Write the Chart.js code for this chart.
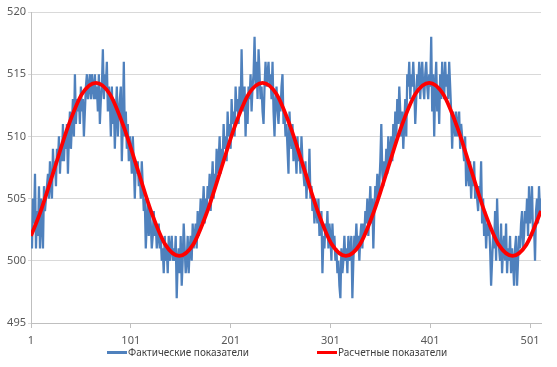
<!DOCTYPE html>
<html lang="ru">
<head>
<meta charset="utf-8">
<title>Фактические и расчетные показатели</title>
<script src="https://cdn.jsdelivr.net/npm/chart.js@4.4.0/dist/chart.umd.min.js"></script>
<style>
  html, body { margin: 0; padding: 0; background: #fff; }
  .wrap { position: relative; width: 557px; height: 367px; }
  .legend { position: absolute; left: 0; top: 345px; width: 557px; height: 14px;
    font: 10px "Noto Sans", sans-serif; color: #404040; }
  .legend__item { position: absolute; top: 0; height: 14px; display: flex; align-items: center; white-space: nowrap; }
  .legend__line { display: inline-block; width: 20px; height: 3px; margin-right: 1px; }
</style>
</head>
<body>
<div class="wrap">
  <canvas id="chart" width="557" height="367"></canvas>
  <div class="legend"></div>
</div>
<script>
// фактические показатели, точки 1..512
const FACT = [
  502, 501, 505, 503, 507, 501, 504, 502, 506, 501, 505, 503, 501, 506, 504, 505,
  506, 507, 505, 508, 506, 505, 509, 507, 508, 506, 509, 508, 510, 507, 509, 508,
  511, 508, 510, 509, 511, 507, 510, 512, 509, 511, 513, 510, 515, 511, 513, 512,
  513, 511, 514, 512, 513, 510, 512, 514, 515, 513, 514, 515, 513, 515, 514, 513,
  515, 513, 514, 512, 515, 511, 513, 514, 517, 513, 515, 514, 516, 512, 514, 513,
  510, 514, 511, 513, 509, 512, 514, 510, 512, 513, 514, 508, 511, 516, 510, 512,
  509, 511, 508, 510, 509, 507, 510, 508, 505, 508, 507, 508, 506, 507, 505, 508,
  506, 504, 505, 501, 503, 505, 502, 504, 503, 501, 502, 504, 502, 503, 501, 502,
  503, 501, 502, 500, 501, 499, 502, 500, 501, 499, 502, 500, 501, 502, 500, 501,
  500, 502, 497, 500, 501, 499, 502, 498, 500, 503, 501, 499, 500, 502, 499, 501,
  502, 500, 503, 501, 502, 503, 501, 504, 502, 503, 505, 503, 504, 506, 503, 505,
  504, 506, 505, 507, 504, 506, 508, 505, 507, 506, 509, 507, 508, 510, 507, 509,
  508, 511, 509, 510, 508, 512, 510, 511, 509, 513, 511, 512, 510, 514, 512, 513,
  511, 514, 512, 517, 513, 512, 514, 510, 513, 511, 514, 513, 515, 512, 514, 515,
  518, 514, 516, 513, 517, 515, 513, 514, 512, 511, 514, 516, 514, 515, 516, 514,
  515, 513, 516, 512, 510, 513, 514, 512, 511, 513, 512, 514, 515, 511, 512, 510,
  511, 509, 507, 512, 510, 509, 511, 508, 510, 509, 507, 510, 508, 509, 507, 510,
  508, 507, 506, 508, 505, 507, 506, 509, 505, 506, 504, 505, 503, 505, 504, 503,
  505, 502, 503, 504, 499, 502, 501, 503, 502, 504, 501, 503, 502, 500, 503, 501,
  502, 500, 501, 499, 500, 498, 497, 501, 499, 500, 502, 500, 501, 499, 502, 500,
  501, 502, 497, 500, 502, 501, 503, 501, 502, 500, 502, 503, 501, 503, 502, 504,
  503, 505, 502, 504, 506, 503, 505, 501, 504, 506, 505, 507, 505, 506, 508, 511,
  507, 506, 508, 507, 509, 507, 510, 508, 509, 510, 508, 511, 509, 512, 510, 513,
  511, 514, 512, 510, 512, 509, 511, 513, 510, 515, 514, 516, 513, 515, 514, 516,
  514, 511, 513, 515, 514, 516, 513, 515, 516, 514, 513, 515, 516, 514, 513, 515,
  514, 518, 512, 515, 510, 514, 516, 512, 514, 511, 515, 513, 516, 514, 513, 516,
  514, 515, 513, 516, 514, 512, 509, 512, 511, 510, 512, 510, 511, 512, 509, 511,
  510, 509, 508, 510, 506, 508, 507, 506, 508, 505, 507, 506, 508, 505, 506, 505,
  504, 506, 505, 508, 503, 505, 502, 504, 501, 503, 502, 503, 501, 498, 500, 502,
  501, 504, 500, 505, 502, 501, 500, 503, 499, 501, 502, 500, 503, 499, 501, 500,
  502, 499, 501, 500, 498, 501, 502, 498, 500, 502, 501, 503, 504, 501, 502, 504,
  503, 505, 502, 506, 503, 504, 506, 502, 503, 500, 504, 505, 503, 506, 504, 505,
];

const CALC_X = [
  1, 10.3, 24.3, 38.2, 52.1, 66, 79.9, 93.8, 107.8, 121.7, 135.6, 149.5, 163.4,
  177.3, 191.3, 205.2, 219.1, 233, 246.9, 260.8, 274.8, 288.7, 302.6, 316.5,
  330.4, 344.3, 358.3, 372.2, 386.1, 400, 413.9, 427.8, 441.8, 455.7, 469.6,
  483.5, 497.4, 512,
];
const CALC_Y = [
  502.0, 503.9, 507.35, 510.8, 513.4, 514.3, 513.4, 510.8, 507.35, 503.9, 501.3, 500.4, 501.3,
  503.9, 507.35, 510.8, 513.4, 514.3, 513.4, 510.8, 507.35, 503.9, 501.3, 500.4,
  501.3, 503.9, 507.35, 510.8, 513.4, 514.3, 513.4, 510.8, 507.35, 503.9, 501.3,
  500.4, 501.3, 504.0,
];

const X_TICKS = [1, 101, 201, 301, 401, 501];
const Y_TICKS = [495, 500, 505, 510, 515, 520];
const SERIES_NAMES = [`Фактические показатели`, `Расчетные показатели`];
const SERIES_COLORS = [`#4f81bd`, `#ff0000`];

const FONT = {family: `"Noto Sans", sans-serif`, size: 11};
const TICK_COLOR = `#595959`;
const AXIS_COLOR = `#bfbfbf`;

const ctx = document.querySelector(`#chart`);

const chart = new Chart(ctx, {
  type: `line`,
  data: {
    datasets: [
      {
        label: SERIES_NAMES[0],
        data: FACT.map((y, i) => ({x: i + 1, y})),
        borderColor: SERIES_COLORS[0],
        borderWidth: 2.25,
        pointRadius: 0,
        tension: 0,
        order: 1,
      },
      {
        label: SERIES_NAMES[1],
        data: CALC_X.map((x, i) => ({x, y: CALC_Y[i]})),
        borderColor: SERIES_COLORS[1],
        borderWidth: 3.75,
        pointRadius: 0,
        cubicInterpolationMode: `monotone`,
        order: 0,
      },
    ],
  },
  options: {
    responsive: false,
    animation: false,
    devicePixelRatio: 1,
    layout: {padding: {top: 12, right: 16, bottom: 0, left: 0}},
    plugins: {
      legend: {display: false},
      tooltip: {enabled: false},
    },
    scales: {
      x: {
        type: `linear`,
        min: 1,
        max: 512,
        afterBuildTicks: (axis) => {
          axis.ticks = X_TICKS.map((value) => ({value}));
        },
        afterFit: (axis) => {
          axis.height = 44;
        },
        grid: {drawOnChartArea: false, drawTicks: true, tickLength: 5, color: AXIS_COLOR},
        border: {color: AXIS_COLOR},
        ticks: {font: FONT, color: TICK_COLOR, padding: 6, maxRotation: 0, autoSkip: false,
          callback: (value) => `${value}`},
      },
      y: {
        min: Y_TICKS[0],
        max: Y_TICKS[Y_TICKS.length - 1],
        afterBuildTicks: (axis) => {
          axis.ticks = Y_TICKS.map((value) => ({value}));
        },
        afterFit: (axis) => {
          axis.width = 31;
        },
        grid: {color: `#d9d9d9`, tickLength: 3},
        border: {color: AXIS_COLOR},
        ticks: {font: FONT, color: TICK_COLOR, padding: 2, callback: (value) => `${value}`},
      },
    },
  },
});

// легенда как в Excel: отрезок линии и подпись
const legendContainer = document.querySelector(`.legend`);
const legendLeft = [107, 317];

chart.data.datasets.forEach((it, i) => {
  const item = document.createElement(`div`);
  item.className = `legend__item`;
  item.style.left = `${legendLeft[i]}px`;
  item.innerHTML = `<span class="legend__line" style="background:${it.borderColor}"></span>${it.label}`;
  legendContainer.appendChild(item);
});
</script>
</body>
</html>
